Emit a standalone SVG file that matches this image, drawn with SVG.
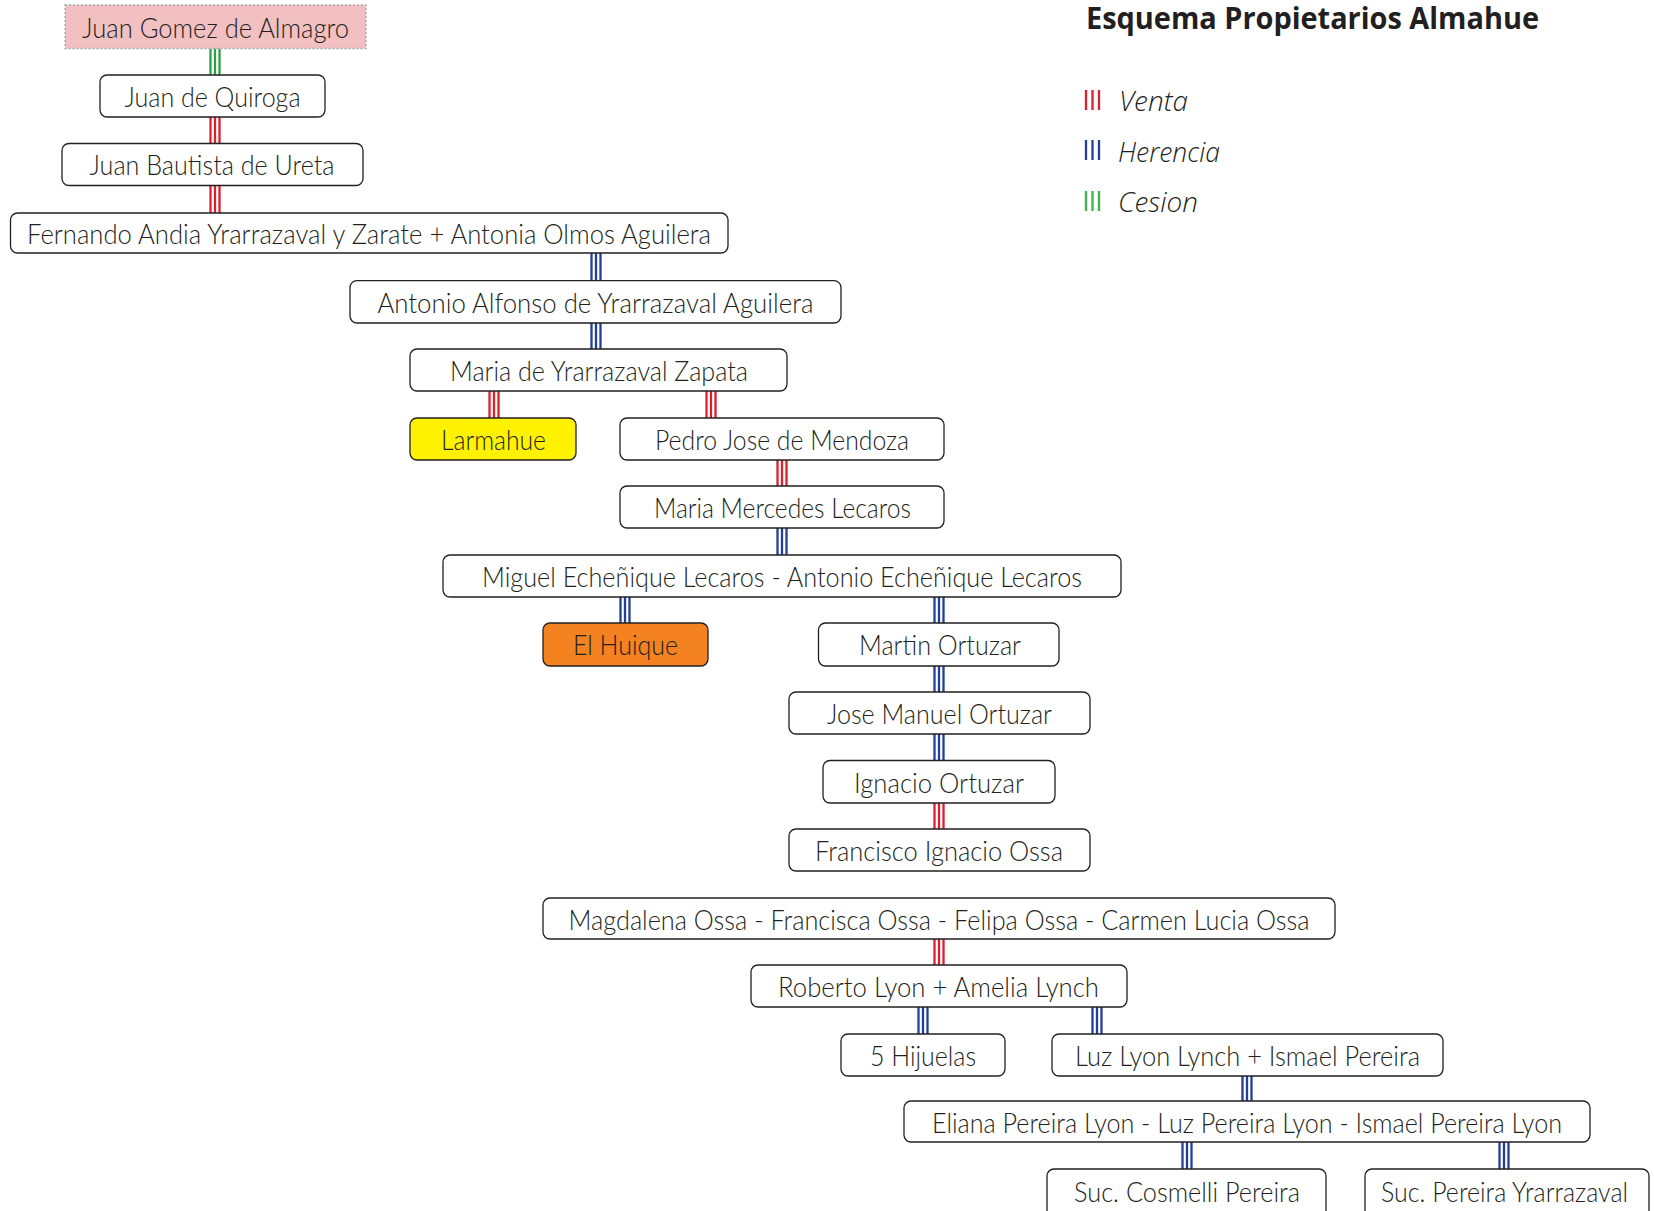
<svg xmlns="http://www.w3.org/2000/svg" width="1654" height="1211" viewBox="0 0 1654 1211">
<style>
.box{fill:#fff;stroke:#231f20;stroke-width:1.3}
.t{font-family:Lato,"Open Sans",sans-serif;font-weight:300;font-size:27px;fill:#231f20;text-anchor:middle}
.c{fill:none;stroke-width:2.3}
.v{stroke:#d9202e}
.h{stroke:#233f96}
.g{stroke:#2e9e46}
.lg{font-family:"Open Sans",sans-serif;font-style:italic;font-weight:300;font-size:27px;fill:#231f20}
.title{font-family:"Open Sans",sans-serif;font-weight:bold;font-size:30px;fill:#231f20}
</style>
<rect width="1654" height="1211" fill="#fff"/>
<g id="connectors">
<path class="c g" d="M210.5 48.5V75M215 48.5V75M219.5 48.5V75"/>
<path class="c v" d="M210.5 117V143.5M215 117V143.5M219.5 117V143.5"/>
<path class="c v" d="M210.5 185.6V213M215 185.6V213M219.5 185.6V213"/>
<path class="c h" d="M591.5 253V280.6M596 253V280.6M600.5 253V280.6"/>
<path class="c h" d="M591.5 323V349M596 323V349M600.5 323V349"/>
<path class="c v" d="M489.5 391V418M494 391V418M498.5 391V418"/>
<path class="c v" d="M706.5 391V418M711 391V418M715.5 391V418"/>
<path class="c v" d="M777.5 460V486M782 460V486M786.5 460V486"/>
<path class="c h" d="M777.5 528V555M782 528V555M786.5 528V555"/>
<path class="c h" d="M620.5 597V623M625 597V623M629.5 597V623"/>
<path class="c h" d="M934.5 597V623M939 597V623M943.5 597V623"/>
<path class="c h" d="M934.5 666V692M939 666V692M943.5 666V692"/>
<path class="c h" d="M934.5 734V760.5M939 734V760.5M943.5 734V760.5"/>
<path class="c v" d="M934.5 803V829M939 803V829M943.5 803V829"/>
<path class="c v" d="M934.5 939V965M939 939V965M943.5 939V965"/>
<path class="c h" d="M918.5 1007V1034M923 1007V1034M927.5 1007V1034"/>
<path class="c h" d="M1092.5 1007V1034M1097 1007V1034M1101.5 1007V1034"/>
<path class="c h" d="M1242.5 1076V1101M1247 1076V1101M1251.5 1076V1101"/>
<path class="c h" d="M1182.5 1142V1169M1187 1142V1169M1191.5 1142V1169"/>
<path class="c h" d="M1499.5 1142V1169M1504 1142V1169M1508.5 1142V1169"/>
</g>
<g id="n-almagro"><rect x="65" y="5" width="301" height="43.5" fill="#f2c0c1" stroke="#a8a8a8" stroke-width="1.3" stroke-dasharray="2 2"/><text class="t" x="215.5" y="37.5" textLength="267" lengthAdjust="spacingAndGlyphs">Juan Gomez de Almagro</text></g>
<g id="n-quiroga"><rect class="box" x="100" y="75" width="225" height="42" rx="7"/><text class="t" x="212.5" y="107" textLength="176" lengthAdjust="spacingAndGlyphs">Juan de Quiroga</text></g>
<g id="n-ureta"><rect class="box" x="62" y="143.5" width="301" height="42" rx="7"/><text class="t" x="212" y="175" textLength="245" lengthAdjust="spacingAndGlyphs">Juan Bautista de Ureta</text></g>
<g id="n-fernando"><rect class="box" x="10.5" y="213" width="717.5" height="40" rx="7"/><text class="t" x="369" y="243.5" textLength="684" lengthAdjust="spacingAndGlyphs">Fernando Andia Yrarrazaval y Zarate + Antonia Olmos Aguilera</text></g>
<g id="n-antonio"><rect class="box" x="350" y="280.6" width="491" height="42.4" rx="7"/><text class="t" x="595.5" y="312.5" textLength="436" lengthAdjust="spacingAndGlyphs">Antonio Alfonso de Yrarrazaval Aguilera</text></g>
<g id="n-maria"><rect class="box" x="410" y="349" width="377" height="42" rx="7"/><text class="t" x="599" y="380.5" textLength="298" lengthAdjust="spacingAndGlyphs">Maria de Yrarrazaval Zapata</text></g>
<g id="n-larmahue"><rect class="box" x="410" y="418" width="166" height="42" rx="7" style="fill:#fff200"/><text class="t" x="493.5" y="449.5" textLength="105" lengthAdjust="spacingAndGlyphs">Larmahue</text></g>
<g id="n-pedro"><rect class="box" x="620" y="418" width="324" height="42" rx="7"/><text class="t" x="782" y="449.5" textLength="254" lengthAdjust="spacingAndGlyphs">Pedro Jose de Mendoza</text></g>
<g id="n-mercedes"><rect class="box" x="620" y="486" width="324" height="42" rx="7"/><text class="t" x="782.5" y="517.5" textLength="257" lengthAdjust="spacingAndGlyphs">Maria Mercedes Lecaros</text></g>
<g id="n-echenique"><rect class="box" x="443" y="555" width="678" height="42" rx="7"/><text class="t" x="782" y="586.5" textLength="600" lengthAdjust="spacingAndGlyphs">Miguel Echeñique Lecaros - Antonio Echeñique Lecaros</text></g>
<g id="n-huique"><rect class="box" x="543" y="623" width="165" height="43" rx="7" style="fill:#f58220"/><text class="t" x="625.5" y="655" textLength="105" lengthAdjust="spacingAndGlyphs">El Huique</text></g>
<g id="n-martin"><rect class="box" x="818.5" y="623" width="240.5" height="43" rx="7"/><text class="t" x="940" y="655" textLength="162" lengthAdjust="spacingAndGlyphs">Martin Ortuzar</text></g>
<g id="n-josemanuel"><rect class="box" x="789" y="692" width="301" height="42" rx="7"/><text class="t" x="939.5" y="723.5" textLength="225" lengthAdjust="spacingAndGlyphs">Jose Manuel Ortuzar</text></g>
<g id="n-ignacio"><rect class="box" x="823" y="760.5" width="232" height="42.5" rx="7"/><text class="t" x="939" y="792.5" textLength="170" lengthAdjust="spacingAndGlyphs">Ignacio Ortuzar</text></g>
<g id="n-francisco"><rect class="box" x="789" y="829" width="301" height="42" rx="7"/><text class="t" x="939" y="860.5" textLength="248" lengthAdjust="spacingAndGlyphs">Francisco Ignacio Ossa</text></g>
<g id="n-ossa"><rect class="box" x="543" y="898" width="792" height="41" rx="7"/><text class="t" x="939" y="929.5" textLength="741" lengthAdjust="spacingAndGlyphs">Magdalena Ossa - Francisca Ossa - Felipa Ossa - Carmen Lucia Ossa</text></g>
<g id="n-lyon"><rect class="box" x="751" y="965" width="376" height="42" rx="7"/><text class="t" x="938.5" y="996.5" textLength="321" lengthAdjust="spacingAndGlyphs">Roberto Lyon + Amelia Lynch</text></g>
<g id="n-hijuelas"><rect class="box" x="841" y="1034" width="164" height="42" rx="7"/><text class="t" x="923" y="1065.5" textLength="106" lengthAdjust="spacingAndGlyphs">5 Hijuelas</text></g>
<g id="n-luz"><rect class="box" x="1052" y="1034" width="391" height="42" rx="7"/><text class="t" x="1247.5" y="1065.5" textLength="345" lengthAdjust="spacingAndGlyphs">Luz Lyon Lynch + Ismael Pereira</text></g>
<g id="n-eliana"><rect class="box" x="904" y="1101" width="686" height="41" rx="7"/><text class="t" x="1247" y="1132.5" textLength="630" lengthAdjust="spacingAndGlyphs">Eliana Pereira Lyon - Luz Pereira Lyon - Ismael Pereira Lyon</text></g>
<g id="n-cosmelli"><rect class="box" x="1047" y="1169" width="279" height="50" rx="7"/><text class="t" x="1187" y="1201.5" textLength="226" lengthAdjust="spacingAndGlyphs">Suc. Cosmelli Pereira</text></g>
<g id="n-yrarrazaval"><rect class="box" x="1365" y="1169" width="284" height="50" rx="7"/><text class="t" x="1504.5" y="1201.5" textLength="247" lengthAdjust="spacingAndGlyphs">Suc. Pereira Yrarrazaval</text></g>
<g id="legend">
<text class="title" x="1086" y="29" textLength="453" lengthAdjust="spacingAndGlyphs">Esquema Propietarios Almahue</text>
<path class="c" stroke="#d9202e" d="M1086 90V110M1092.5 90V110M1099 90V110"/>
<text class="lg" x="1119" y="111" textLength="69" lengthAdjust="spacingAndGlyphs">Venta</text>
<path class="c" stroke="#233f96" d="M1086 140V160M1092.5 140V160M1099 140V160"/>
<text class="lg" x="1118" y="162" textLength="102" lengthAdjust="spacingAndGlyphs">Herencia</text>
<path class="c" stroke="#3ab54a" d="M1086 191V211M1092.5 191V211M1099 191V211"/>
<text class="lg" x="1118" y="212" textLength="80" lengthAdjust="spacingAndGlyphs">Cesion</text>
</g>
</svg>
